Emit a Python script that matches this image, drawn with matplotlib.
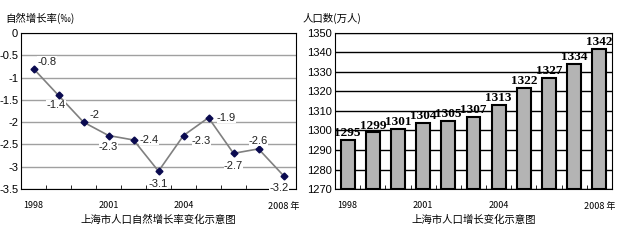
import matplotlib
matplotlib.use("Agg")
import matplotlib.pyplot as plt
import numpy as np

plt.rcParams['font.family'] = ['Liberation Sans', 'Noto Sans CJK SC']

years = [1998, 1999, 2000, 2001, 2002, 2003, 2004, 2005, 2006, 2007, 2008]
rate = [-0.8, -1.4, -2.0, -2.3, -2.4, -3.1, -2.3, -1.9, -2.7, -2.6, -3.2]
rate_labels = ["-0.8", "-1.4", "-2", "-2.3", "-2.4", "-3.1", "-2.3", "-1.9", "-2.7", "-2.6", "-3.2"]
population = [1295, 1299, 1301, 1304, 1305, 1307, 1313, 1322, 1327, 1334, 1342]
tick_years = {1998: "1998", 2001: "2001", 2004: "2004", 2008: "2008 年"}

fig = plt.figure(figsize=(6.26, 2.40), dpi=100)
cjk = ['Noto Sans CJK SC', 'DejaVu Sans']

x = np.arange(len(years))

# Left chart
ax1 = fig.add_axes([21/626, 1-189/240, (296-21)/626, (189-33)/240])
ax1.set_xlim(-0.5, len(years)-0.5)
ax1.set_ylim(-3.5, 0)
ax1.set_yticks(np.arange(0, -3.51, -0.5))
ax1.set_yticklabels(["0", "-0.5", "-1", "-1.5", "-2", "-2.5", "-3", "-3.5"], fontsize=8)
ax1.grid(axis='y', color='#a0a0a0', linewidth=1.0)
ax1.set_axisbelow(True)
ax1.plot(x, rate, color='#808080', linewidth=1.2, marker='D', markersize=3.5,
         markerfacecolor='#0a0a50', markeredgecolor='#0a0a50', zorder=3)
offsets = [(3, 5), (-2, -7), (4, 5), (0, -8), (4, 0), (0, -9), (6, -4), (6, 0), (0, -9), (0, 6), (-3, -9)]
has = ['left', 'center', 'left', 'center', 'left', 'center', 'left', 'left', 'center', 'center', 'center']
for i, (xi, v) in enumerate(zip(x, rate)):
    dx, dy = offsets[i]
    ax1.annotate(rate_labels[i], (xi, v), xytext=(dx, dy), textcoords='offset points',
                 ha=has[i], va='center', fontsize=8, color='#202020', zorder=4,
                 bbox=dict(facecolor='white', edgecolor='none', pad=0.2))
tpos = [years.index(y) for y in tick_years]
ax1.set_xticks(tpos)
ax1.set_xticklabels(list(tick_years.values()), fontsize=6.5, family=cjk)
ax1.set_xticks(np.arange(-0.5, len(years), 1), minor=True)
ax1.tick_params(axis='x', which='major', length=0, pad=9)
ax1.tick_params(axis='x', which='minor', direction='in', length=3)
ax1.tick_params(axis='y', length=0, pad=2)
ax1.text(0.5, -0.2, "上海市人口自然增长率变化示意图", transform=ax1.transAxes,
         ha='center', va='center', fontsize=7.5, family=cjk)
fig.text(5/626, 1-18/240, "自然增长率(‰)", fontsize=7.5, family=cjk, va='center')

# Right chart
ax2 = fig.add_axes([335/626, 1-189/240, (612-335)/626, (189-33)/240])
ax2.set_xlim(-0.5, len(years)-0.5)
ax2.set_ylim(1270, 1350)
ax2.set_yticks(np.arange(1270, 1351, 10))
ax2.tick_params(axis='y', labelsize=8, length=0, pad=2)
ax2.grid(axis='y', color='black', linewidth=1.0)
ax2.set_axisbelow(True)
ax2.bar(x, [p - 1270 for p in population], bottom=1270, width=0.55, color='#b4b4b4',
        edgecolor='black', linewidth=1.5, zorder=3)
for xi, p in zip(x, population):
    ax2.text(xi, p + 0.4, str(p), ha='center', va='bottom', fontsize=9.5,
             fontweight='bold', family='Liberation Serif', zorder=4)
ax2.set_xticks(tpos)
ax2.set_xticklabels(list(tick_years.values()), fontsize=6.5, family=cjk)
ax2.set_xticks(np.arange(-0.5, len(years), 1), minor=True)
ax2.tick_params(axis='x', which='major', length=0, pad=9)
ax2.tick_params(axis='x', which='minor', direction='in', length=3)
ax2.text(0.5, -0.2, "上海市人口增长变化示意图", transform=ax2.transAxes,
         ha='center', va='center', fontsize=7.5, family=cjk)
fig.text(303/626, 1-18/240, "人口数(万人)", fontsize=7.5, family=cjk, va='center')

fig.savefig("out.png", dpi=100)
